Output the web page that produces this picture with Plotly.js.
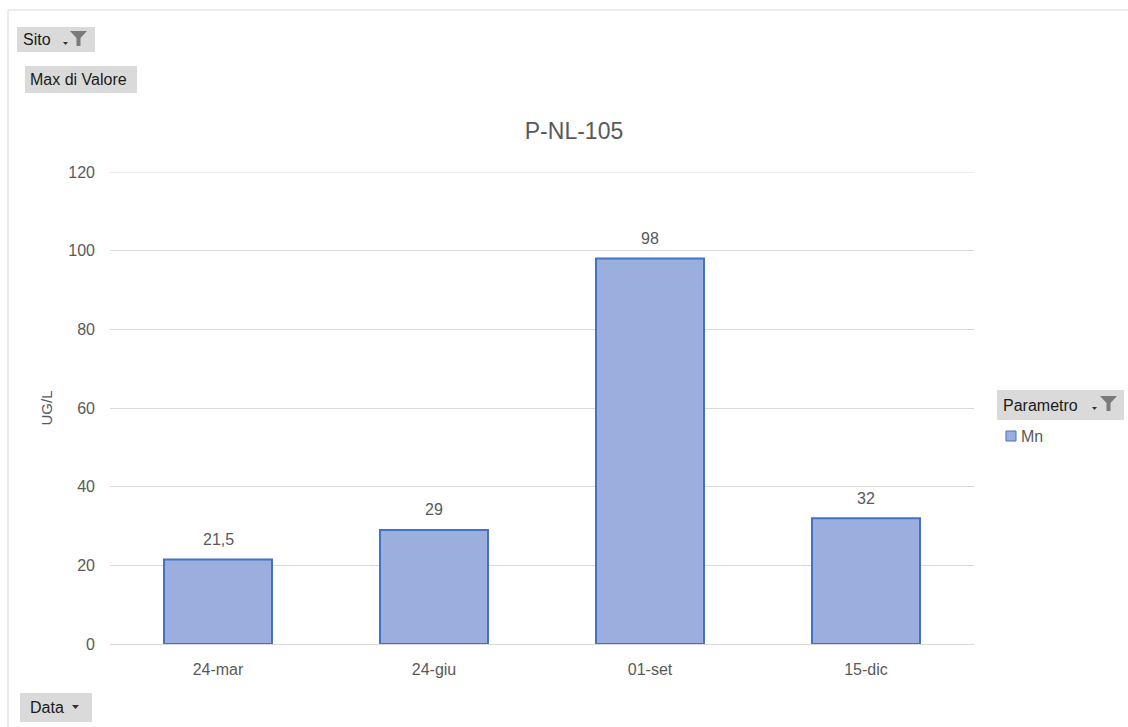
<!DOCTYPE html>
<html>
<head>
<meta charset="utf-8">
<script src="https://cdn.plot.ly/plotly-3.0.1.min.js"></script>
<style>
html,body{margin:0;padding:0;background:#fff;}
#chart{width:1128px;height:727px;}
</style>
</head>
<body>
<div id="chart"></div>
<script>
// Data
var categories = ["24-mar", "24-giu", "01-set", "15-dic"];
var values = [21.5, 29, 98, 32];
var valueLabels = ["21,5", "29", "98", "32"];
var seriesName = "Mn";
var chartTitle = "P-NL-105";
var yTitle = "UG/L";
var yTicks = [0, 20, 40, 60, 80, 100, 120];

// Layout geometry (pixels)
var W = 1128, H = 727;
var L = 110, R = 974, T = 172, B = 644;
function px(x){ return (x - L) / (R - L); }
function py(y){ return (B - y) / (B - T); }

var FONT = "Liberation Sans, Arial, sans-serif";
var GREY = "#595959";

var shapes = [];
var annotations = [];

// chart area border
shapes.push({type:"rect", xref:"paper", yref:"paper", x0:px(8), x1:px(1140), y0:py(10), y1:py(740),
  line:{color:"#D9D9D9", width:1}, fillcolor:"rgba(0,0,0,0)", layer:"below"});

// top gridline (at the range edge)
var yMax = yTicks[yTicks.length - 1];
shapes.push({type:"line", xref:"paper", yref:"y", x0:0, x1:1, y0:yMax, y1:yMax,
  line:{color:"#D9D9D9", width:1}, layer:"below"});

function button(x0, y0, x1, y1, label, tx){
  shapes.push({type:"rect", xref:"paper", yref:"paper", x0:px(x0), x1:px(x1), y0:py(y1), y1:py(y0),
    line:{width:0}, fillcolor:"#DADADA"});
  annotations.push({xref:"paper", yref:"paper", x:px(tx), y:py((y0+y1)/2), xanchor:"left", yanchor:"middle",
    text:label, showarrow:false, font:{family:FONT, size:16, color:"#1a1a1a"}});
}
function funnel(x0, y0){
  var p = "M " + px(x0) + " " + py(y0) +
          " L " + px(x0+17) + " " + py(y0) +
          " L " + px(x0+10.5) + " " + py(y0+7) +
          " L " + px(x0+10.5) + " " + py(y0+15) +
          " L " + px(x0+6.5) + " " + py(y0+15) +
          " L " + px(x0+6.5) + " " + py(y0+7) + " Z";
  shapes.push({type:"path", xref:"paper", yref:"paper", path:p, line:{width:0}, fillcolor:"#7a7a7a"});
}
function smallArrow(x, y, w){
  var p = "M " + px(x) + " " + py(y) + " L " + px(x+w) + " " + py(y) + " L " + px(x+w/2) + " " + py(y+w/2+0.5) + " Z";
  shapes.push({type:"path", xref:"paper", yref:"paper", path:p, line:{width:0}, fillcolor:"#333"});
}

button(17, 27, 95, 52, "Sito", 21);
smallArrow(63, 42, 5);
funnel(70, 31);

button(25, 66, 137, 93, "Max di Valore", 28);

button(997, 390, 1124, 420, "Parametro", 1001);
smallArrow(1092, 407, 5);
funnel(1100, 396);

button(20, 693, 92, 722, "Data", 28);
smallArrow(72, 705, 7);

// legend entry
shapes.push({type:"rect", xref:"paper", yref:"paper", x0:px(1006), x1:px(1016), y0:py(441), y1:py(431),
  line:{color:"#4472C4", width:1}, fillcolor:"#9BAEDD"});
annotations.push({xref:"paper", yref:"paper", x:px(1019), y:py(436), xanchor:"left", yanchor:"middle",
  text:seriesName, showarrow:false, font:{family:FONT, size:16, color:GREY}});

// data labels from the data arrays
for (var i = 0; i < categories.length; i++) {
  annotations.push({xref:"x", yref:"y", x:categories[i], y:values[i], yanchor:"middle", yshift:20,
    text:valueLabels[i], showarrow:false, font:{family:FONT, size:16, color:GREY}});
}

var trace = {
  type:"bar",
  x: categories,
  y: values,
  name: seriesName,
  marker: {color:"#9BAEDD", line:{color:"#4472C4", width:2}},
  width: 0.5,
  hoverinfo: "x+y",
  showlegend: false
};

var layout = {
  width: W, height: H,
  margin: {l:L, r:W-R, t:T, b:H-B, pad:0},
  paper_bgcolor: "#fff",
  plot_bgcolor: "#fff",
  separators: ",.",
  font: {family:FONT, color:GREY},
  title: {text: chartTitle, xref:"container", yref:"container", x:574/W, y:1-131/H,
          xanchor:"center", yanchor:"middle", font:{family:FONT, size:23, color:GREY}},
  xaxis: {
    type:"category",
    tickfont:{family:FONT, size:16, color:GREY},
    showgrid:false, showline:false, zeroline:false,
    ticks:"", ticklabelstandoff: 14
  },
  yaxis: {
    range:[0,120],
    tickvals: yTicks,
    tickfont:{family:FONT, size:16, color:GREY},
    gridcolor:"#D9D9D9", gridwidth:1,
    zeroline:true, zerolinecolor:"#D9D9D9", zerolinewidth:1,
    showline:false, ticks:"", ticklabelstandoff: 14,
    title:{text:yTitle, font:{family:FONT, size:15, color:GREY}, standoff: 12}
  },
  bargap: 0.5,
  shapes: shapes,
  annotations: annotations,
  showlegend: false
};

Plotly.newPlot("chart", [trace], layout, {displayModeBar:false, staticPlot:true});
</script>
</body>
</html>
